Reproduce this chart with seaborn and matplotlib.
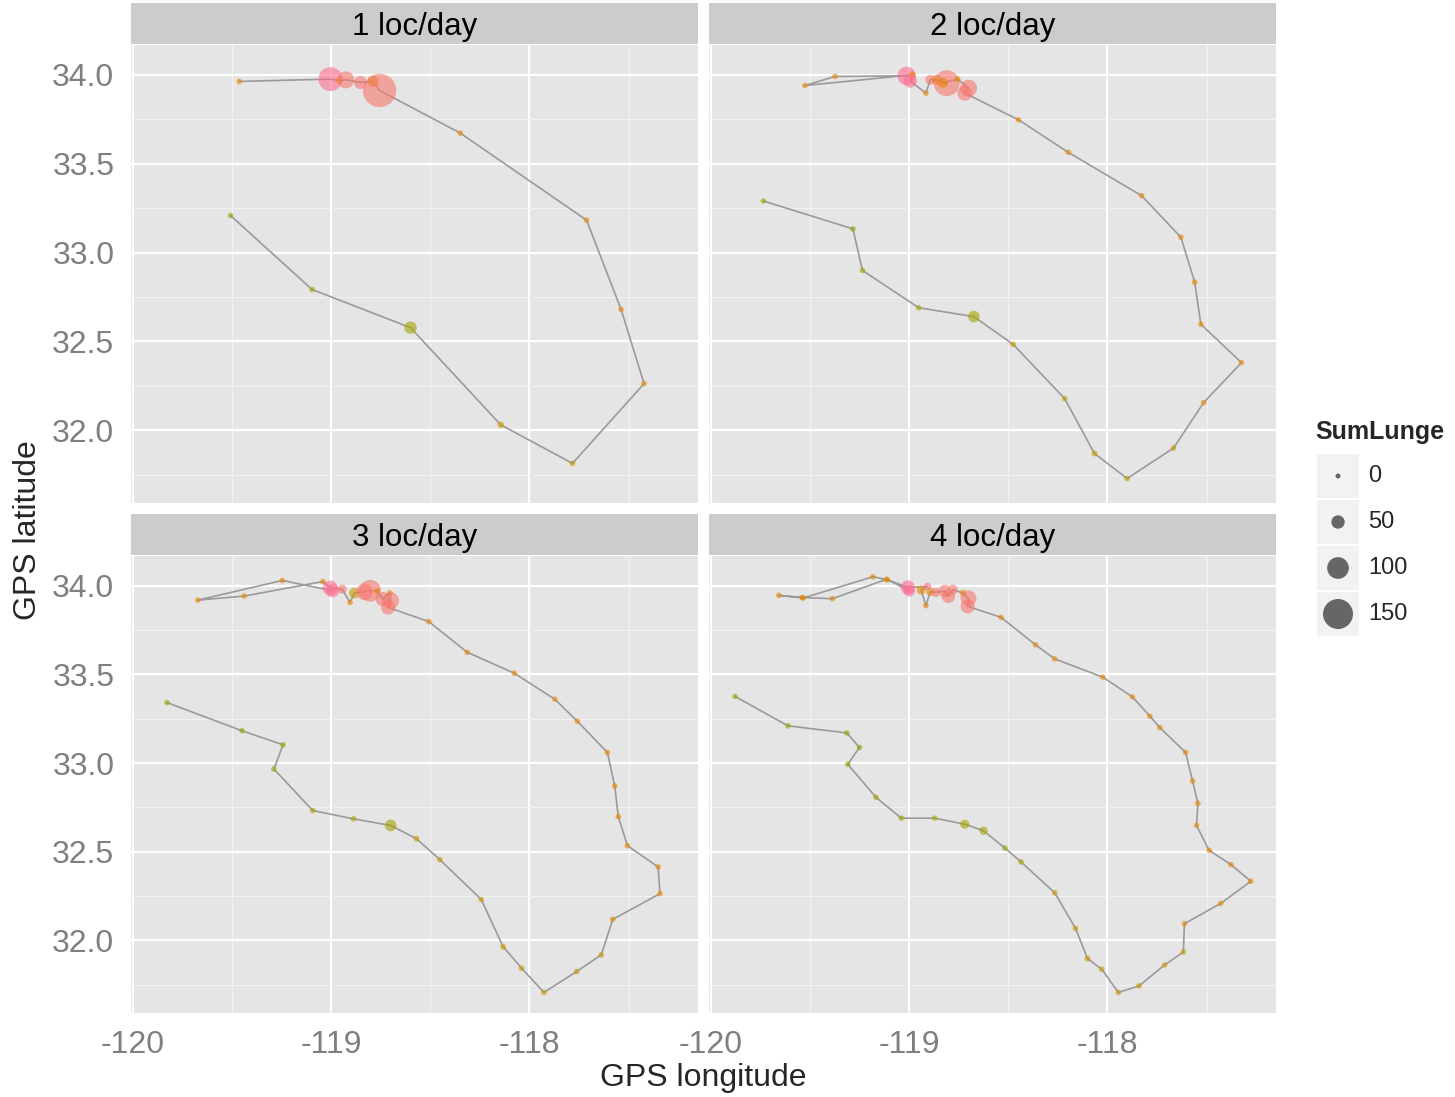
import pandas as pd
import seaborn as sns
import matplotlib.pyplot as plt
from matplotlib.patches import Rectangle
from matplotlib.ticker import MultipleLocator, FormatStrFormatter

sns.set_style("white")
plt.rcParams['font.family'] = ['Liberation Sans', 'DejaVu Sans']
plt.rcParams['axes.unicode_minus'] = False

# ---- data (track order) ----
# 1 loc/day
lon1 = [-119.464, -119.004, -118.958, -118.927, -118.853, -118.789, -118.756, -118.349,
        -117.712, -117.538, -117.422, -117.783, -118.145, -118.600, -119.097, -119.508]
lat1 = [33.963, 33.976, 33.968, 33.972, 33.957, 33.963, 33.912, 33.672,
        33.182, 32.680, 32.262, 31.813, 32.030, 32.577, 32.792, 33.208]
lunge1 = [4, 114, 10, 72, 48, 38, 170, 4, 4, 4, 4, 4, 10, 45, 4, 3]
day1 = ['o', 'p', 'o', 's', 's', 'o', 's', 'o', 'o', 'o', 'o', 'g', 'g', 'v', 'v', 'y']

# 2 loc/day
lon2 = [-119.013, -119.374, -119.526, -118.985, -118.995, -118.916, -118.894, -118.861,
        -118.811, -118.830, -118.756, -118.701, -118.720, -118.449, -118.198, -117.828,
        -117.630, -117.560, -117.529, -117.324, -117.515, -117.667, -117.901, -118.066,
        -118.216, -118.476, -118.674, -118.952, -119.236, -119.284, -119.736]
lat2 = [33.994, 33.991, 33.940, 34.000, 33.965, 33.897, 33.972, 33.972,
        33.953, 33.955, 33.976, 33.925, 33.897, 33.747, 33.564, 33.320,
        33.086, 32.833, 32.596, 32.380, 32.155, 31.899, 31.728, 31.869,
        32.178, 32.483, 32.639, 32.689, 32.899, 33.133, 33.290]
lunge2 = [80, 4, 4, 12, 50, 4, 30, 30, 125, 30, 6, 72, 60, 4, 4, 4,
          4, 4, 4, 4, 4, 4, 4, 6, 4, 4, 40, 4, 4, 4, 3]
day2 = ['p', 'o', 'o', 'o', 'p', 'o', 's', 'o', 's', 'o', 'o', 's', 's', 'o', 'o', 'o',
        'o', 'o', 'o', 'o', 'o', 'g', 'g', 'g', 'g', 'g', 'v', 'v', 'v', 'y', 'y']

# 3 loc/day
lon3 = [-118.993, -119.247, -119.673, -119.439, -119.042, -119.005, -118.945, -118.905,
        -118.883, -118.832, -118.804, -118.768, -118.740, -118.704, -118.700, -118.713,
        -118.508, -118.314, -118.077, -117.872, -117.759, -117.607, -117.570, -117.552,
        -117.506, -117.351, -117.342, -117.580, -117.638, -117.762, -117.927, -118.040,
        -118.133, -118.243, -118.452, -118.570, -118.700, -118.887, -119.093, -119.289,
        -119.243, -119.450, -119.828]
lat3 = [33.972, 34.030, 33.919, 33.942, 34.024, 33.987, 33.981, 33.906,
        33.959, 33.966, 33.972, 33.970, 33.925, 33.959, 33.916, 33.878,
        33.798, 33.625, 33.507, 33.360, 33.236, 33.060, 32.871, 32.698,
        32.534, 32.414, 32.263, 32.118, 31.918, 31.824, 31.706, 31.843,
        31.964, 32.230, 32.455, 32.573, 32.648, 32.685, 32.732, 32.966,
        33.103, 33.182, 33.341]
lunge3 = [50, 4, 4, 4, 4, 60, 25, 4, 35, 70, 100, 6, 55, 6, 70, 55,
          4, 4, 4, 4, 4, 4, 4, 4, 4, 4, 4, 4, 5, 4, 5, 4,
          6, 4, 4, 6, 40, 4, 4, 4, 4, 4, 3]
day3 = ['p', 'o', 'o', 'o', 'o', 'p', 's', 'o', 'g', 's', 's', 'o', 's', 'o', 's', 's',
        'o', 'o', 'o', 'o', 'o', 'o', 'o', 'o', 'o', 'o', 'o', 'o', 'g', 'g', 'g', 'g',
        'g', 'g', 'g', 'g', 'v', 'v', 'v', 'v', 'y', 'y', 'y']

# 4 loc/day
lon4 = [-119.000, -119.114, -119.388, -119.540, -119.658, -119.535, -119.183, -119.110,
        -119.007, -118.908, -118.940, -118.916, -118.894, -118.866, -118.821, -118.802,
        -118.780, -118.729, -118.701, -118.705, -118.537, -118.363, -118.267, -118.024,
        -117.874, -117.786, -117.736, -117.606, -117.571, -117.544, -117.551, -117.487,
        -117.377, -117.277, -117.429, -117.612, -117.617, -117.712, -117.841, -117.945,
        -118.029, -118.101, -118.161, -118.266, -118.436, -118.518, -118.625, -118.720,
        -118.872, -119.040, -119.168, -119.310, -119.251, -119.315, -119.612, -119.879]
lat4 = [33.972, 34.037, 33.927, 33.934, 33.946, 33.931, 34.051, 34.034,
        33.991, 33.996, 33.976, 33.888, 33.966, 33.963, 33.970, 33.940,
        33.978, 33.959, 33.929, 33.884, 33.822, 33.667, 33.588, 33.485,
        33.373, 33.264, 33.200, 33.060, 32.899, 32.773, 32.648, 32.507,
        32.427, 32.333, 32.208, 32.094, 31.934, 31.861, 31.743, 31.706,
        31.837, 31.897, 32.067, 32.268, 32.442, 32.521, 32.618, 32.655,
        32.689, 32.689, 32.807, 32.993, 33.088, 33.170, 33.210, 33.376]
lunge4 = [40, 4, 4, 4, 4, 4, 4, 4, 55, 15, 25, 4, 20, 25, 45, 50,
          30, 10, 65, 55, 4, 4, 4, 4, 4, 4, 4, 4, 4, 4, 4, 4,
          4, 4, 4, 4, 4, 4, 4, 4, 4, 6, 4, 4, 4, 5, 20, 25,
          4, 4, 4, 4, 4, 4, 4, 3]
day4 = ['p', 'o', 'o', 'o', 'o', 'o', 'o', 'o', 'p', 'p', 'o', 'o', 'o', 's', 's', 's',
        's', 'o', 's', 's', 'o', 'o', 'o', 'o', 'o', 'o', 'o', 'o', 'o', 'o', 'o', 'o',
        'o', 'o', 'o', 'o', 'g', 'g', 'g', 'g', 'g', 'g', 'g', 'g', 'v', 'v', 'v', 'v',
        'v', 'v', 'v', 'y', 'y', 'y', 'y', 'y']

panel_titles = ['1 loc/day', '2 loc/day', '3 loc/day', '4 loc/day']
day_colors = {'p': '#FF6C91', 's': '#F8766D', 'o': '#E58700',
              'g': '#C99800', 'v': '#A3A500', 'y': '#8AAB00'}
legend_breaks = [0, 50, 100, 150]

panels = [
    pd.DataFrame({'lon': lon1, 'lat': lat1, 'SumLunge': lunge1, 'day': day1}),
    pd.DataFrame({'lon': lon2, 'lat': lat2, 'SumLunge': lunge2, 'day': day2}),
    pd.DataFrame({'lon': lon3, 'lat': lat3, 'SumLunge': lunge3, 'day': day3}),
    pd.DataFrame({'lon': lon4, 'lat': lat4, 'SumLunge': lunge4, 'day': day4}),
]


def dot_area(v):
    # diameter grows linearly with SumLunge (old ggplot size scale)
    d_px = 5 + v / 6.0
    return (d_px * 0.72) ** 2


W, H = 1455, 1097


def box(x0, y0, x1, y1):
    return [x0 / W, 1 - y1 / H, (x1 - x0) / W, (y1 - y0) / H]


fig = plt.figure(figsize=(14.55, 10.97), dpi=100)
fig.patch.set_facecolor('white')

boxes = [(131, 45, 698, 503), (709, 45, 1276, 503),
         (131, 556, 698, 1013), (709, 556, 1276, 1013)]

for i, (df, title, (x0, y0, x1, y1)) in enumerate(zip(panels, panel_titles, boxes)):
    ax = fig.add_axes(box(x0, y0, x1, y1))
    ax.set_facecolor('#E5E5E5')
    for s in ax.spines.values():
        s.set_visible(False)

    sns.lineplot(data=df, x='lon', y='lat', sort=False, estimator=None,
                 color='#9A9A9A', lw=1.2, ax=ax, zorder=2)
    sizes = {v: dot_area(v) for v in df['SumLunge'].unique()}
    sns.scatterplot(data=df, x='lon', y='lat', hue='day', palette=day_colors,
                    size='SumLunge', sizes=sizes, alpha=0.6, edgecolor='none',
                    legend=False, ax=ax, zorder=3)

    ax.set_xlim(-120.01, -117.15)
    ax.set_ylim(31.59, 34.168)
    ax.xaxis.set_major_locator(MultipleLocator(1))
    ax.xaxis.set_minor_locator(MultipleLocator(0.5))
    ax.yaxis.set_major_locator(MultipleLocator(0.5))
    ax.yaxis.set_minor_locator(MultipleLocator(0.25))
    ax.yaxis.set_major_formatter(FormatStrFormatter('%.1f'))
    ax.xaxis.set_major_formatter(FormatStrFormatter('%d'))
    ax.grid(which='major', color='white', lw=1.6)
    ax.grid(which='minor', color='#F2F2F2', lw=0.8)
    ax.set_axisbelow(True)
    ax.set_xlabel('')
    ax.set_ylabel('')
    ax.tick_params(which='minor', length=0)
    ax.tick_params(which='major', length=7, width=1.1, color='#7F7F7F',
                   labelcolor='#7F7F7F', labelsize=23, pad=5)
    if i % 2 == 1:
        ax.tick_params(axis='y', left=False, labelleft=False)
    if i < 2:
        ax.tick_params(axis='x', bottom=False, labelbottom=False)

    # facet strip
    sax = fig.add_axes(box(x0, y0 - 42, x1, y0 - 1))
    sax.set_facecolor('#CCCCCC')
    sax.set_xticks([])
    sax.set_yticks([])
    for s in sax.spines.values():
        s.set_visible(False)
    sax.text(0.5, 0.42, title, ha='center', va='center', fontsize=22.5,
             color='black', transform=sax.transAxes)

fig.text(703 / W, 1 - 1078 / H, 'GPS longitude', ha='center', va='center', fontsize=23)
fig.text(28 / W, 1 - 530 / H, 'GPS latitude', ha='center', va='center',
         rotation=90, fontsize=23)

# size legend
fig.text(1315 / W, 1 - 432 / H, 'SumLunge', ha='left', va='center',
         fontsize=18, fontweight='bold')
lax = fig.add_axes(box(1317, 453, 1359, 637))
lax.set_xlim(0, 1)
lax.set_ylim(len(legend_breaks) - 0.5, -0.5)
lax.axis('off')
for k in range(len(legend_breaks)):
    lax.add_patch(Rectangle((0, k - 0.47), 1, 0.94, facecolor='#F2F2F2',
                            edgecolor='none', zorder=1))
leg = pd.DataFrame({'x': [0.5] * len(legend_breaks),
                    'y': list(range(len(legend_breaks))),
                    'SumLunge': legend_breaks})
sns.scatterplot(data=leg, x='x', y='y', size='SumLunge',
                sizes={v: dot_area(v) for v in legend_breaks},
                color='#666666', edgecolor='none', legend=False, ax=lax,
                zorder=3, clip_on=False)
lax.set_xlim(0, 1)
lax.set_ylim(len(legend_breaks) - 0.5, -0.5)
for k, v in enumerate(legend_breaks):
    lax.text(1.22, k, str(v), ha='left', va='center', fontsize=17,
             transform=lax.transData)

fig.savefig('out.png', dpi=100)
